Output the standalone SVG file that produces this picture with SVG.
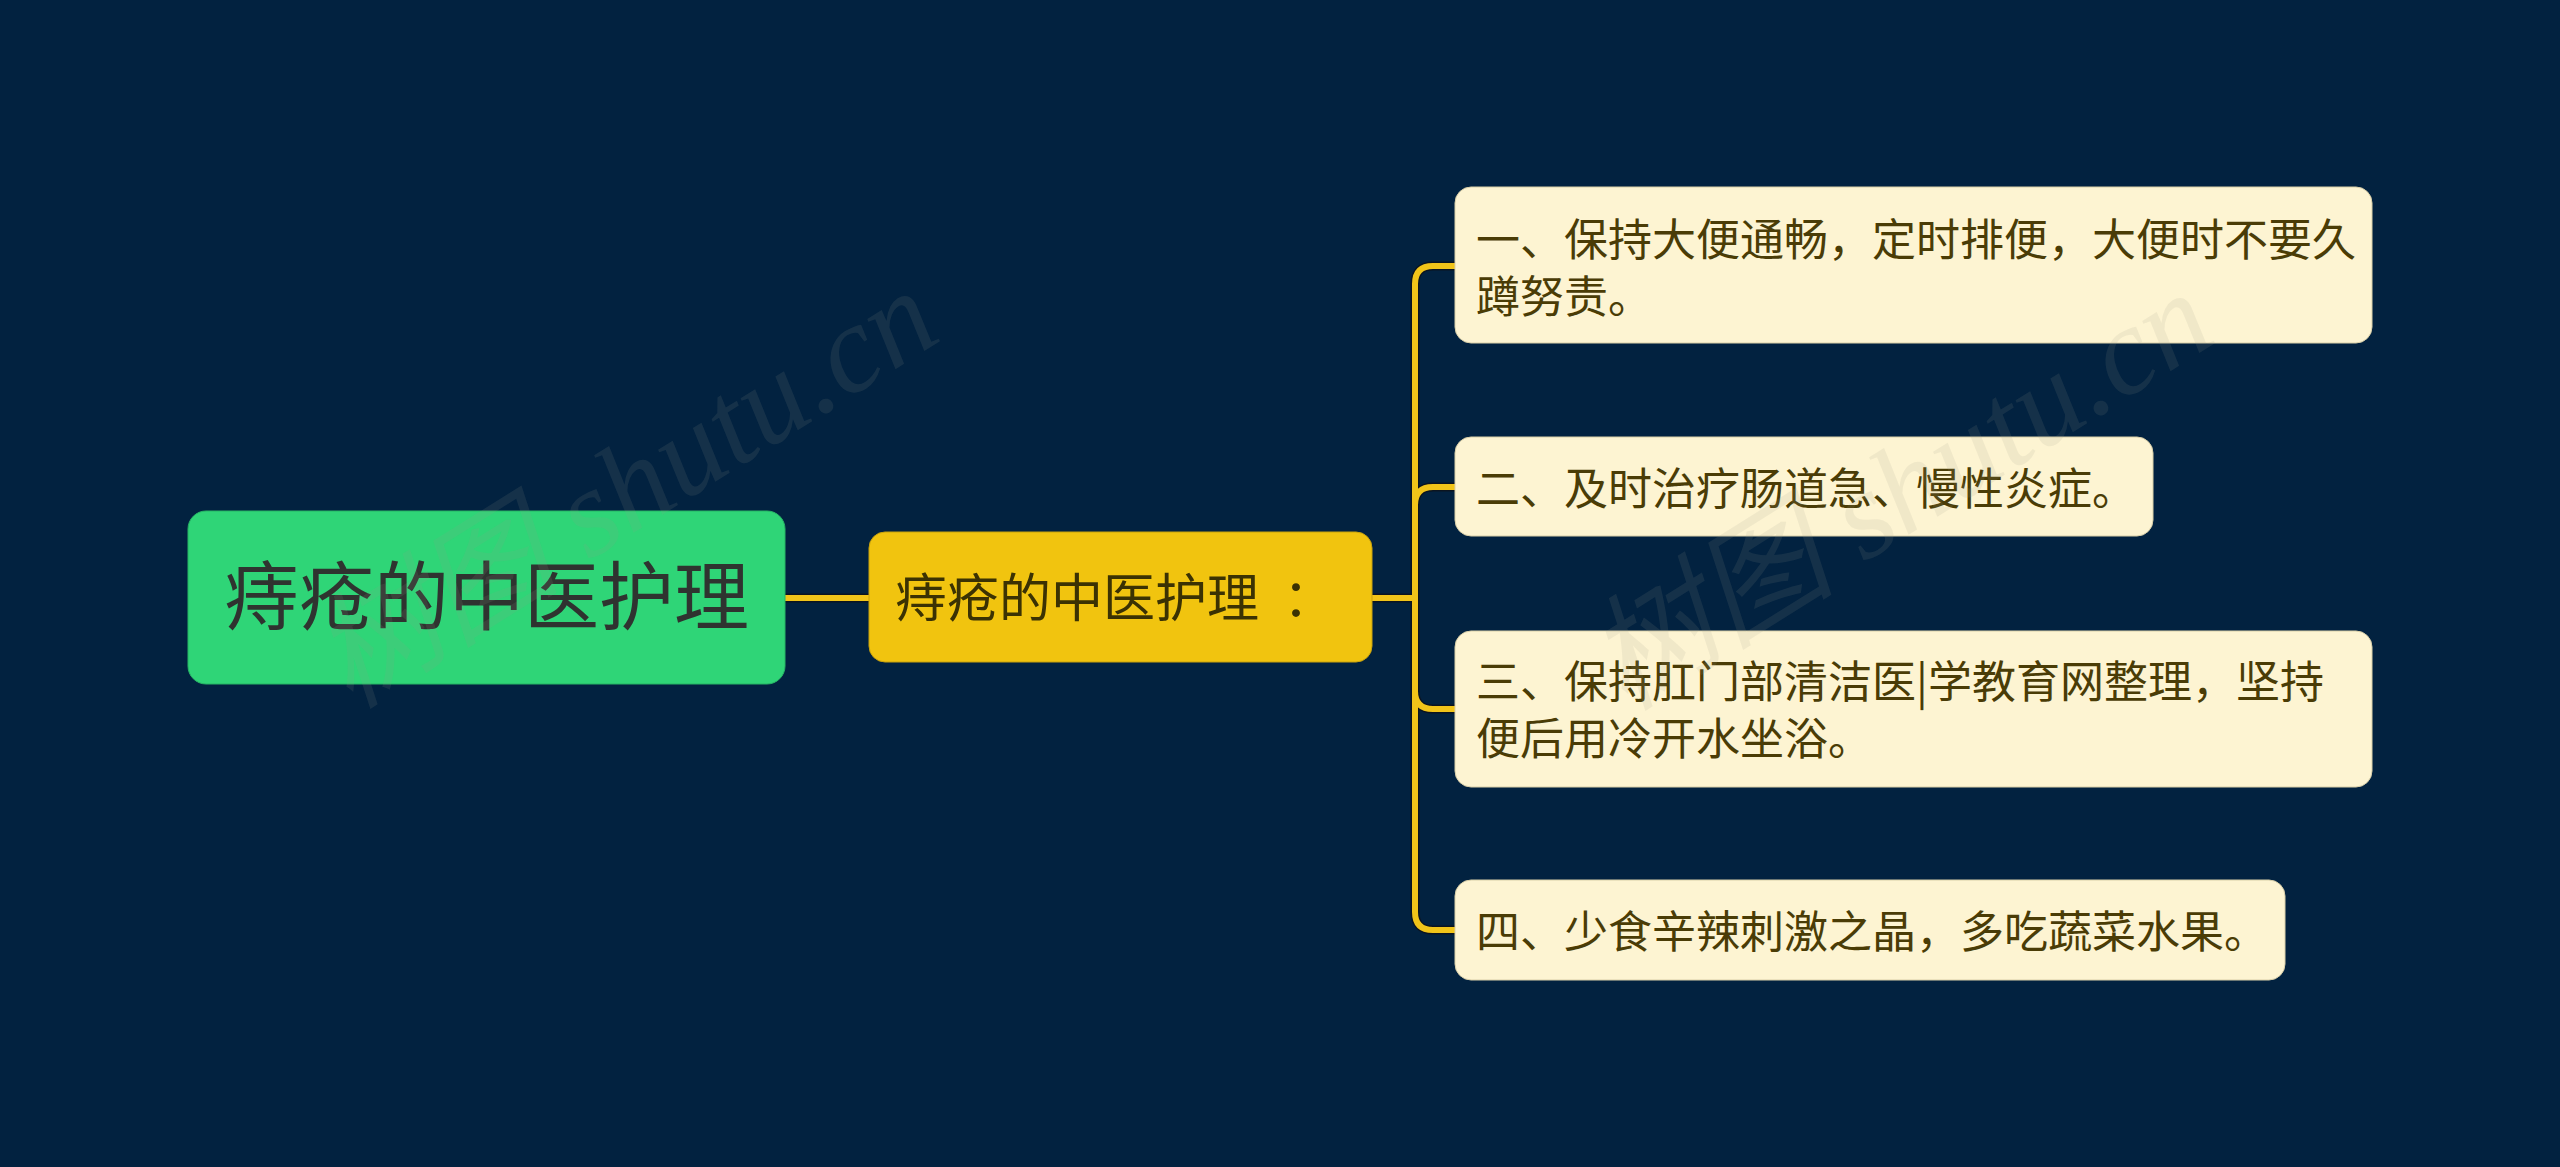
<svg xmlns="http://www.w3.org/2000/svg" width="2560" height="1167" viewBox="0 0 2560 1167">
<defs>
<style>
.cjk{font-family:"Noto Sans CJK SC","Noto Sans",sans-serif;}
.root-t{font-size:75px;fill:#2f3330;}
.mid-t{font-size:52px;fill:#3b3203;}
.leaf-t{font-size:44px;fill:#4a3c06;}
.leaf{fill:#fdf4d2;stroke:#d9cfa8;stroke-width:1;}
.edge-shadow{fill:none;stroke:#0b1420;stroke-width:9;stroke-linecap:round;stroke-linejoin:round;}
.edge{fill:none;stroke:#f1c419;stroke-width:6;stroke-linecap:round;stroke-linejoin:round;}
.wm{font-family:"Liberation Serif","Noto Sans CJK SC",serif;font-style:italic;font-size:125px;fill:#9a9a8a;fill-opacity:0.13;}
</style>
</defs>
<rect x="0" y="0" width="2560" height="1167" fill="#022240"/>
<g id="connectors">
<path class="edge-shadow" d="M785,598 H869"/>
<path class="edge-shadow" d="M1372,598 H1415 M1415,598 V284 Q1415,266 1433,266 H1455 M1415,598 V505 Q1415,487 1433,487 H1455 M1415,598 V691 Q1415,709 1433,709 H1455 M1415,598 V912 Q1415,930 1433,930 H1455"/>
<path class="edge" d="M785,598 H869"/>
<path class="edge" d="M1372,598 H1415 M1415,598 V284 Q1415,266 1433,266 H1455 M1415,598 V505 Q1415,487 1433,487 H1455 M1415,598 V691 Q1415,709 1433,709 H1455 M1415,598 V912 Q1415,930 1433,930 H1455"/>
</g>
<g id="root">
<rect x="188" y="511" width="597" height="173" rx="18" fill="#2fd577" stroke="#27b565" stroke-width="1"/>
<text class="cjk root-t" x="486.5" y="624" text-anchor="middle">痔疮的中医护理</text>
</g>
<g id="mid">
<rect x="869" y="532" width="503" height="130" rx="16" fill="#f1c40f" stroke="#c9a20c" stroke-width="1"/>
<text class="cjk mid-t" x="895" y="617">痔疮的中医护理<tspan dx="24">：</tspan></text>
</g>
<g id="leaf1">
<rect class="leaf" x="1455" y="187" width="917" height="156" rx="16"/>
<text class="cjk leaf-t" x="1476" y="256">一、保持大便通畅，定时排便，大便时不要久</text>
<text class="cjk leaf-t" x="1476" y="313">蹲努责。</text>
</g>
<g id="leaf2">
<rect class="leaf" x="1455" y="437" width="698" height="99" rx="16"/>
<text class="cjk leaf-t" x="1476" y="505">二、及时治疗肠道急、慢性炎症。</text>
</g>
<g id="leaf3">
<rect class="leaf" x="1455" y="631" width="917" height="156" rx="16"/>
<text class="cjk leaf-t" x="1476" y="698">三、保持肛门部清洁医|学教育网整理，坚持</text>
<text class="cjk leaf-t" x="1476" y="755">便后用冷开水坐浴。</text>
</g>
<g id="leaf4">
<rect class="leaf" x="1455" y="880" width="830" height="100" rx="16"/>
<text class="cjk leaf-t" x="1476" y="948">四、少食辛辣刺激之晶，多吃蔬菜水果。</text>
</g>
<g id="watermarks">
<text class="wm" transform="translate(350,710) rotate(-32)">树图 shutu.cn</text>
<text class="wm" transform="translate(1625,712) rotate(-32)">树图 shutu.cn</text>
</g>
</svg>
